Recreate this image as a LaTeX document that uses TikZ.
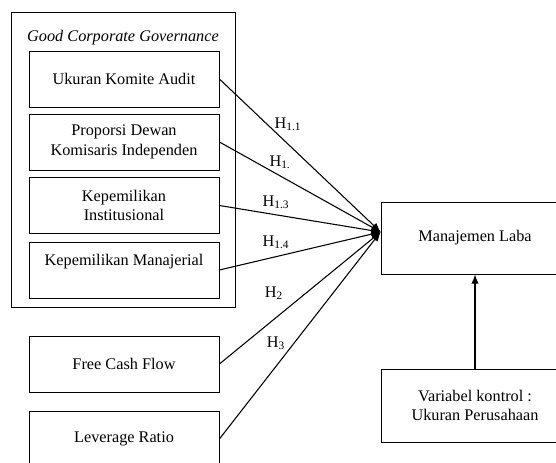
\documentclass[tikz,border=0pt]{standalone}
\usepackage{fontspec}
\setmainfont{Liberation Serif}
\usepackage{tikz}
\usetikzlibrary{shapes,arrows,arrows.meta,positioning,calc}
\tikzset{
  varbox/.style={
    draw,
    rectangle,
    line width=0.6pt,
    minimum width=142.5pt,
    minimum height=42pt,
    align=center,
    inner sep=2pt,
  },
  hyp/.style={inner sep=0pt},
  link/.style={line width=0.8pt,-{Latex[length=7pt,width=5.5pt]}},
}
\begin{document}
\begin{tikzpicture}[x=0.75pt,y=-0.75pt,font=\fontsize{12.2pt}{14.5pt}\selectfont]
        \clip (0,0) rectangle (556,463);

        % good corporate governance group
        \node (gcg) [draw,line width=0.6pt,minimum width=168pt,minimum height=221.25pt] at (123,159.5) {};
        \node (gcgtitle) at (123,38) {\textit{Good Corporate Governance}};

        \node (uka) [varbox] at (124,79) {Ukuran Komite Audit};
        \node (pdki) [varbox] at (124,142) {Proporsi Dewan\\Komisaris Independen};
        \node (ki) [varbox] at (124,205.5) {Kepemilikan\\Institusional};
        \node (km) [varbox] at (124,270) {Kepemilikan Manajerial\\ \mbox{}};

        \node (fcf) [varbox] at (124,364) {Free Cash Flow};
        \node (lev) [varbox] at (124,439) {Leverage Ratio};

        % dependent and control
        \node (laba) [varbox,minimum width=141pt,minimum height=54pt] at (475,238) {Manajemen Laba};
        \node (kontrol) [varbox,minimum width=141pt,minimum height=54.75pt] at (475,405.5) {Variabel kontrol :\\Ukuran Perusahaan};

        \coordinate (hub) at ($(laba.west)+(0,4.5pt)$);

        \draw [link] (uka.east) -- (hub);
        \draw [link] (pdki.east) -- (hub);
        \draw [link] (ki.east) -- (hub);
        \draw [link] (km.east) -- (hub);
        \draw [link] (fcf.east) -- (hub);
        \draw [link] (lev.east) -- (hub);
        \draw [link] (kontrol.north) -- (laba.south);

        \node (h11) [hyp] at (288,124) {H\textsubscript{1.1}};
        \node (h12) [hyp] at (280,162) {H\textsubscript{1.}};
        \node (h13) [hyp] at (276,202) {H\textsubscript{1.3}};
        \node (h14) [hyp] at (276,242) {H\textsubscript{1.4}};
        \node (h2) [hyp] at (274,293) {H\textsubscript{2}};
        \node (h3) [hyp] at (276,343) {H\textsubscript{3}};
      \end{tikzpicture}
\end{document}
